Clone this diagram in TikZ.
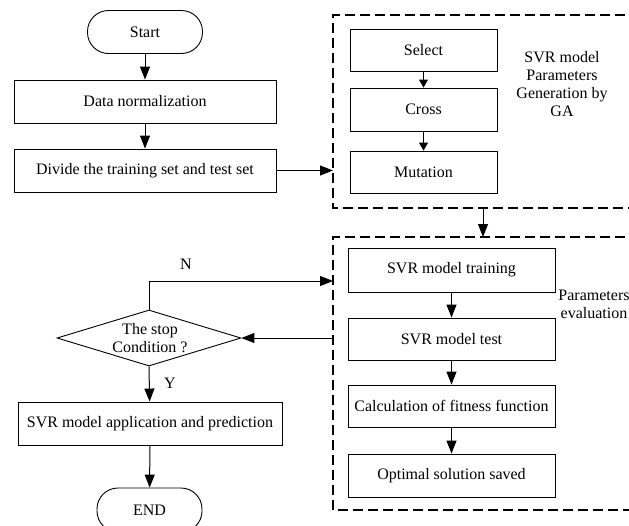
\documentclass[tikz,border=0pt]{standalone}
\usepackage{fontspec}
\setmainfont{Liberation Serif}
\usetikzlibrary{arrows.meta,shapes.geometric}
\begin{document}
\begin{tikzpicture}[x=1pt,y=-1pt,
  every node/.style={font=\fontsize{16}{18}\selectfont},
  box/.style={draw, line width=0.9pt, inner sep=0pt, minimum height=43pt},
  term/.style={draw, line width=0.9pt, rounded corners=21pt, inner sep=0pt, minimum height=43pt},
  dec/.style={draw, diamond, line width=0.9pt, aspect=3.29, inner sep=0pt, minimum width=184pt, minimum height=56pt},
  arr/.style={line width=1pt, -{Triangle[length=13pt,width=10pt]}},
  sarr/.style={line width=0.9pt, -{Triangle[length=8pt,width=9pt]}},
  dbox/.style={line width=2.6pt, dash pattern=on 10pt off 5pt},
  lbl/.style={align=center, inner sep=0pt}
]
\useasboundingbox (0,0) rectangle (629,525);
\clip (0,0) rectangle (629,525);
% left column
\node[term, minimum width=115pt] (start) at (145,32) {Start};
\node[box, minimum width=262pt] (dn) at (145,101.5) {Data normalization};
\node[box, minimum width=262pt] (div) at (145,170.5) {Divide the training set and test set};
% GA block
\node[box, minimum width=147pt, minimum height=42pt] (sel) at (423.5,50) {Select};
\node[box, minimum width=147pt] (cro) at (423.5,109.5) {Cross};
\node[box, minimum width=147pt, minimum height=42pt] (mut) at (423.5,172) {Mutation};
\node[lbl] (galbl) at (562,84) {SVR model\\Parameters\\Generation by\\GA};
\draw[dbox] (640,15) -- (333,15) -- (333,208) -- (640,208);
\coordinate (d1w) at (333,170.5);
\coordinate (d1s) at (483,208);
\coordinate (d2n) at (483,237);
% evaluation block
\node[box, minimum width=207pt, minimum height=44pt] (tr) at (451.5,270) {SVR model training};
\node[box, minimum width=207pt, minimum height=42pt] (te) at (451.5,339) {SVR model test};
\node[box, minimum width=207pt, minimum height=42pt] (ca) at (451.5,406) {Calculation of fitness function};
\node[box, minimum width=207pt] (op) at (451.5,475.5) {Optimal solution saved};
\node[lbl] (evlbl) at (594,304) {Parameters\\evaluation};
\draw[dbox] (640,237) -- (333,237) -- (333,510) -- (640,510);
\coordinate (d2wN) at (333,281);
\coordinate (d2wT) at (333,338);
% decision and end
\node[dec] (dia) at (149,338) {};
\node[lbl] (diatxt) at (150,338) {The stop\\Condition ?};
\node[box, minimum width=264pt] (app) at (150,423.5) {SVR model application and prediction};
\node[term, minimum width=105pt, minimum height=44pt] (end) at (149.5,510) {END};
\coordinate (nturn) at (149,281);
\node (nlbl) at (186,264) {N};
\node (ylbl) at (170,383) {Y};
% connectors
\draw[arr] (start) -- (dn);
\draw[arr] (dn) -- (div);
\draw[arr] (div) -- (d1w);
\draw[sarr] (sel) -- (cro);
\draw[sarr] (cro) -- (mut);
\draw[arr] (d1s) -- (d2n);
\draw[arr] (tr) -- (te);
\draw[arr] (te) -- (ca);
\draw[arr] (ca) -- (op);
\draw[arr] (dia.north) -- (nturn) -- (d2wN);
\draw[arr] (d2wT) -- (dia.east);
\draw[arr] (dia.south) -- (app);
\draw[arr] (app) -- (end);
\end{tikzpicture}
\end{document}
